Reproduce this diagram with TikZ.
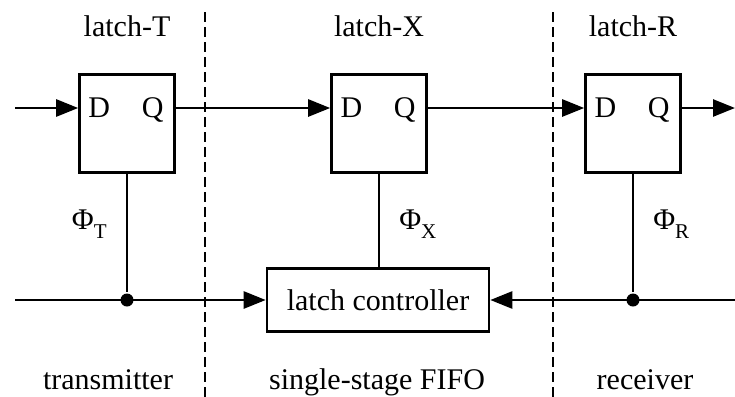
\documentclass[tikz,border=0pt]{standalone}
\usepackage{fontspec}
\setmainfont{Liberation Serif}
\usetikzlibrary{arrows.meta, positioning}

\begin{document}
\begin{tikzpicture}[x=0.5pt, y=-0.5pt, line width=1.3pt,
    font=\fontsize{15}{18}\selectfont,
    latch/.style={draw, minimum width=47.5pt, minimum height=49pt, inner sep=0pt},
    ctrlbox/.style={draw, minimum width=111pt, minimum height=31.5pt},
    pin/.style={inner sep=1pt},
    phase/.style={inner sep=0pt},
    sig/.style={-{Triangle[length=11pt,width=8.5pt]}},
    divider/.style={line width=0.6pt, dash pattern=on 5pt off 2.5pt},
    dot/.style={circle, fill, inner sep=0pt, minimum size=6.5pt},
    ]
\useasboundingbox (0,0) rectangle (735,397);

% stage boundaries
\draw[divider] (205,12) -- (205,397);
\draw[divider] (553,12) -- (553,397);

% the three latches
\foreach \n/\x in {T/127, X/379, R/633} {
    \node[latch] (latch\n) at (\x,123.5) {};
    \node[pin, anchor=base west] (d\n) at ([shift={(3.5pt,3.25pt)}]latch\n.west) {D};
    \node[pin, anchor=base east] (q\n) at ([shift={(-4.5pt,3.25pt)}]latch\n.east) {Q};
    \node[anchor=base] (name\n) at (\x,36) {latch-\n};
}

% data path
\coordinate (dataIn) at (15,108);
\coordinate (dataOut) at (735,108);
\draw[sig] (dataIn) -- (dataIn -| latchT.west);
\draw[sig] (latchT.east |- dataIn) -- (latchX.west |- dataIn);
\draw[sig] (latchX.east |- dataIn) -- (latchR.west |- dataIn);
\draw[sig] (latchR.east |- dataIn) -- (dataOut);

% control
\node[ctrlbox] (ctrl) at (378,300) {latch controller};
\coordinate (reqIn) at (15,300);
\coordinate (ackIn) at (735,300);
\node[dot] (dotT) at (127,300) {};
\node[dot] (dotR) at (633,300) {};
\draw[sig] (reqIn) -- (ctrl.west);
\draw[sig] (ackIn) -- (ctrl.east);
\draw (latchT.south) -- (dotT);
\draw (latchR.south) -- (dotR);
\draw (latchX.south) -- (latchX.south |- ctrl.north);

\node[phase, anchor=base east] (phiT) at (108,229) {Φ\raisebox{-4.5pt}{\fontsize{10.5}{12}\selectfont T}};
\node[phase, anchor=base west] (phiX) at (398,229) {Φ\raisebox{-4.5pt}{\fontsize{10.5}{12}\selectfont X}};
\node[phase, anchor=base west] (phiR) at (652,229) {Φ\raisebox{-4.5pt}{\fontsize{10.5}{12}\selectfont R}};

% stage names
\node[anchor=base] (tx) at (108,389) {transmitter};
\node[anchor=base] (fifo) at (377,389) {single-stage FIFO};
\node[anchor=base] (rx) at (645,389) {receiver};
\end{tikzpicture}
\end{document}
